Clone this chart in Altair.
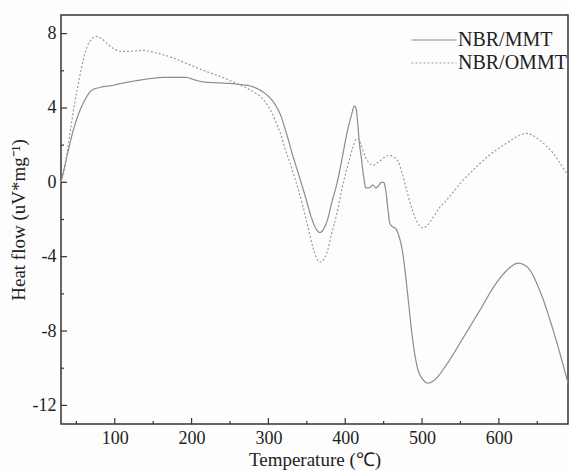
import altair as alt
import pandas as pd

# NBR/MMT (solid)
mmt_t = [30, 35, 40, 46, 54, 62, 70, 80, 95, 112, 133, 150, 170, 192, 205, 215, 235, 255, 265, 275,
         285, 295, 303, 310, 316, 323, 332, 341, 349, 356, 362, 367, 372, 377, 383, 389, 396, 402,
         408, 412, 414, 416, 418, 421, 424, 427, 431, 436, 440, 443, 447, 450, 453, 456, 458, 462,
         466, 470, 474, 478, 482, 487, 493, 501, 508, 517, 532, 553, 575, 597, 614, 625, 638, 653,
         671, 690]
mmt_v = [0.0, 0.9, 1.8, 2.8, 3.8, 4.5, 4.95, 5.1, 5.2, 5.35, 5.5, 5.6, 5.65, 5.65, 5.5, 5.4, 5.35,
         5.3, 5.25, 5.2, 5.05, 4.8, 4.5, 4.1, 3.6, 2.7, 1.4, 0.2, -0.9, -1.9, -2.5, -2.7, -2.5, -2.0,
         -1.0, -0.1, 1.3, 2.6, 3.6, 4.1, 4.0, 3.3, 2.3, 1.3, 0.3, -0.3, -0.3, -0.15, -0.3, -0.2, 0.0,
         0.0, -0.5, -1.6, -2.2, -2.4, -2.5, -2.9, -3.6, -4.8, -6.3, -8.2, -9.8, -10.6, -10.8, -10.6,
         -9.8, -8.4, -6.9, -5.4, -4.6, -4.35, -4.6, -5.8, -8.0, -10.8]

# NBR/OMMT (dotted)
ommt_t = [30, 34, 38, 43, 48, 54, 59, 64, 70, 76, 82, 89, 98, 110, 122, 137, 150, 160, 175, 190,
          205, 220, 237, 254, 268, 280, 290, 298, 305, 311, 316, 321, 330, 339, 345, 352, 358, 363,
          367, 372, 376, 382, 389, 396, 404, 410, 414, 417, 420, 424, 430, 436, 442, 447, 453, 458,
          463, 469, 474, 480, 486, 491, 496, 501, 506, 510, 515, 523, 532, 542, 553, 564, 575, 586,
          597, 608, 619, 628, 636, 645, 653, 662, 671, 680, 688, 690]
ommt_v = [0.0, 0.6, 1.6, 3.0, 4.3, 5.6, 6.6, 7.3, 7.7, 7.85, 7.75, 7.5, 7.2, 7.04, 7.05, 7.1, 7.0,
          6.9, 6.7, 6.45, 6.2, 5.95, 5.7, 5.4, 5.15, 4.88, 4.6, 4.2, 3.7, 3.1, 2.6, 1.9, 0.8, -0.4,
          -1.3, -2.5, -3.5, -4.1, -4.3, -4.15, -3.8, -2.8, -1.7, -0.3, 1.0, 1.9, 2.3, 2.35, 2.1, 1.6,
          1.1, 0.92, 1.05, 1.2, 1.4, 1.45, 1.35, 1.1, 0.5, -0.45, -1.3, -1.9, -2.3, -2.45, -2.35,
          -2.15, -1.85, -1.35, -0.95, -0.45, 0.1, 0.55, 1.0, 1.4, 1.75, 2.05, 2.35, 2.55, 2.63, 2.5,
          2.27, 1.95, 1.55, 1.0, 0.5, 0.4]

series_names = ["NBR/MMT", "NBR/OMMT"]
x_major = [100, 200, 300, 400, 500, 600]
x_minor = [50, 150, 250, 350, 450, 550, 650]
y_major = [-12, -8, -4, 0, 4, 8]
y_minor = [-10, -6, -2, 2, 6]

df = pd.concat([
    pd.DataFrame({"T": mmt_t, "H": mmt_v, "s": series_names[0], "o": range(len(mmt_t))}),
    pd.DataFrame({"T": ommt_t, "H": ommt_v, "s": series_names[1], "o": range(len(ommt_t))}),
])

W, H = 507, 409
FONT = "Liberation Serif"
xs = alt.Scale(domain=[30, 690], nice=False, zero=False)
ys = alt.Scale(domain=[-13, 9], nice=False, zero=False)

# long horizontal stroke symbol drawn as a custom path
leg = alt.Legend(title=None, orient="none", legendX=363, legendY=15, labelFont=FONT,
                 labelFontSize=20, labelColor="#222", symbolType="M-4.5,0L4.5,0", symbolSize=100,
                 symbolStrokeWidth=1.2, rowPadding=3, labelOffset=14, labelLimit=300)

lines = alt.Chart(df).mark_line(strokeWidth=1.2, interpolate="monotone").encode(
    x=alt.X("T:Q", scale=xs, axis=alt.Axis(
        title="Temperature (℃)", values=x_major, grid=False, ticks=False, domain=False,
        labelFont=FONT, labelFontSize=18, labelColor="#222", labelPadding=5,
        titleFont=FONT, titleFontSize=19, titleFontWeight="normal", titleColor="#222",
        titlePadding=3, labelExpr="'' + datum.value")),
    y=alt.Y("H:Q", scale=ys, axis=alt.Axis(
        title="Heat flow (uV*mg⁻¹)", values=y_major, grid=False, ticks=False, domain=False,
        labelFont=FONT, labelFontSize=18, labelColor="#222", labelPadding=5,
        titleFont=FONT, titleFontSize=19, titleFontWeight="normal", titleColor="#222",
        titlePadding=4, labelExpr="'' + datum.value")),
    color=alt.Color("s:N", scale=alt.Scale(domain=series_names, range=["#8c8c8c", "#9c9c9c"]), legend=leg),
    strokeDash=alt.StrokeDash("s:N", scale=alt.Scale(domain=series_names, range=[[1, 0], [2, 2]]), legend=leg),
    order="o:Q",
)

tick_color = "#333"
xmaj = alt.Chart(pd.DataFrame({"v": x_major})).mark_rule(color=tick_color, strokeWidth=1.2).encode(
    x=alt.X("v:Q", scale=xs), y=alt.value(H), y2=alt.value(H - 6))
xmin = alt.Chart(pd.DataFrame({"v": x_minor})).mark_rule(color=tick_color, strokeWidth=1.2).encode(
    x=alt.X("v:Q", scale=xs), y=alt.value(H), y2=alt.value(H - 3))
ymaj = alt.Chart(pd.DataFrame({"v": y_major})).mark_rule(color=tick_color, strokeWidth=1.2).encode(
    y=alt.Y("v:Q", scale=ys), x=alt.value(0), x2=alt.value(6))
ymin = alt.Chart(pd.DataFrame({"v": y_minor})).mark_rule(color=tick_color, strokeWidth=1.2).encode(
    y=alt.Y("v:Q", scale=ys), x=alt.value(0), x2=alt.value(3))

chart = alt.layer(lines, xmaj, xmin, ymaj, ymin).properties(
    width=W, height=H,
    autosize=alt.AutoSizeParams(type="none"),
    padding={"left": 61, "top": 15, "right": 1, "bottom": 46},
    background="#fdfdfd",
).configure_view(stroke="#333", strokeWidth=1.5).configure_axis(
    labelFont=FONT, titleFont=FONT
).configure_legend(labelFont=FONT)

chart.save("out.html", embed_options={"renderer": "svg", "actions": False})
